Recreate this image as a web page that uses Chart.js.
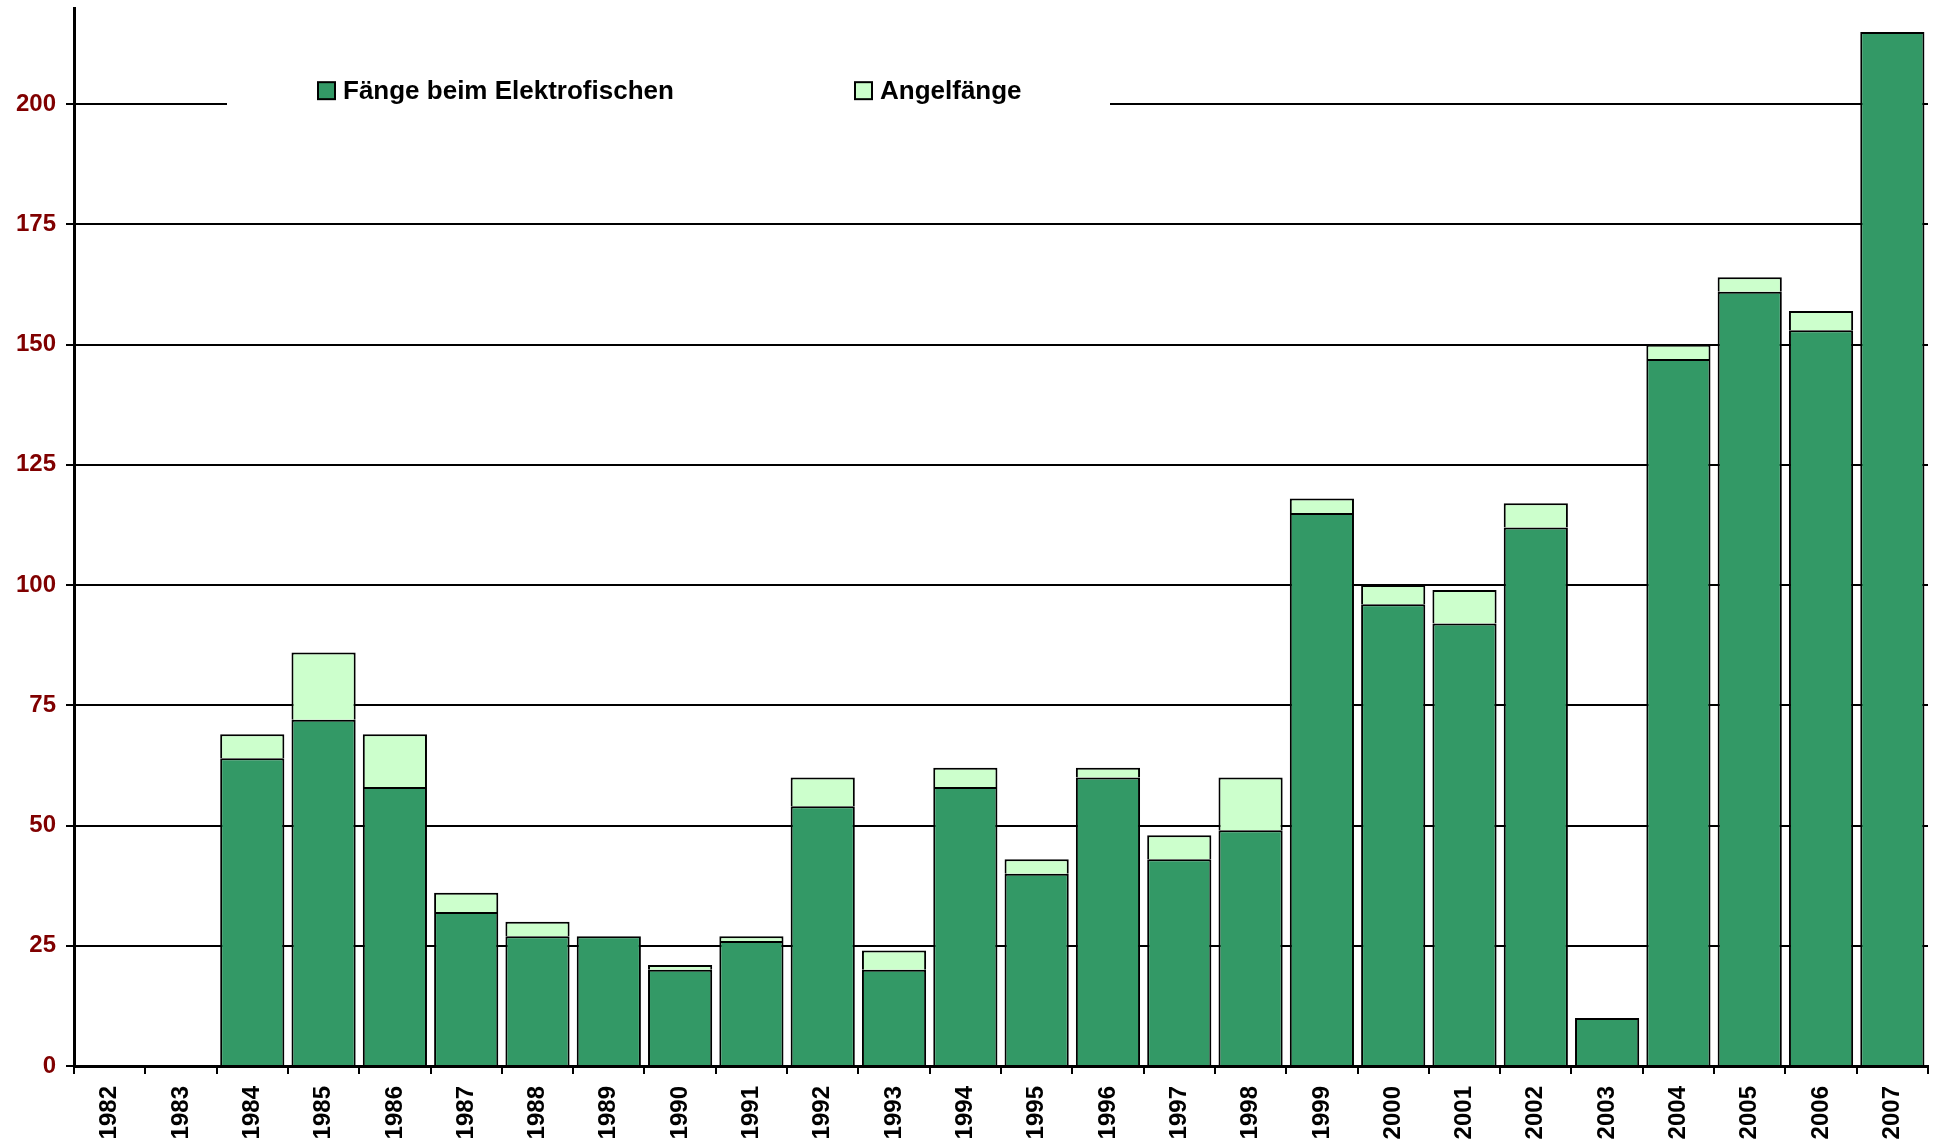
<!DOCTYPE html>
<html>
<head>
<meta charset="utf-8">
<script src="https://cdn.jsdelivr.net/npm/chart.js@4.4.1/dist/chart.umd.min.js"></script>
<style>
  html, body { margin: 0; padding: 0; background: #fff; }
  #wrap { width: 1941px; height: 1139px; }
</style>
</head>
<body>
<div id="wrap"><canvas id="fangChart"></canvas></div>
<script>
// Jahre
var years = ['1982', '1983', '1984', '1985', '1986', '1987', '1988', '1989', '1990', '1991',
             '1992', '1993', '1994', '1995', '1996', '1997', '1998', '1999', '2000', '2001',
             '2002', '2003', '2004', '2005', '2006', '2007'];
// Fänge beim Elektrofischen
var elektro = [0, 0, 64, 72, 58, 32, 27, 27, 20, 26,
               54, 20, 58, 40, 60, 43, 49, 115, 96, 92,
               112, 10, 147, 161, 153, 215];
// Angelfänge (oben drauf gestapelt)
var angel = [0, 0, 5, 14, 11, 4, 3, 0, 1, 1,
             6, 4, 4, 3, 2, 5, 11, 3, 4, 7,
             5, 0, 3, 3, 4, 0];
var seriesNames = ['Fänge beim Elektrofischen', 'Angelfänge'];
var yTicks = [0, 25, 50, 75, 100, 125, 150, 175, 200];

var dark = '#339966';
var light = '#ccffcc';
var fontFam = '"Liberation Sans", Arial, sans-serif';

// eigene Legende im Diagramm, mit weissem Hintergrund ueber der 200er Linie
var legendPlugin = {
  id: 'innerLegend',
  beforeDatasetsDraw: function(chart) {
    var c = chart.ctx;
    var area = chart.chartArea;
    var y200 = chart.scales.y.getPixelForValue(200);
    c.save();
    c.fillStyle = '#fff';
    c.fillRect(area.left + 153, y200 - 20, 883, 40);
    var items = [
      { x: area.left + 244, color: dark, text: seriesNames[0] },
      { x: area.left + 781, color: light, text: seriesNames[1] }
    ];
    c.font = 'bold 26px ' + fontFam;
    c.textBaseline = 'middle';
    items.forEach(function(it) {
      c.fillStyle = it.color;
      c.fillRect(it.x, y200 - 22, 17, 17);
      c.lineWidth = 2;
      c.strokeStyle = '#000';
      c.strokeRect(it.x, y200 - 22, 17, 17);
      c.fillStyle = '#000';
      c.fillText(it.text, it.x + 25, y200 - 12);
    });
    c.restore();
  }
};

var ctx = document.getElementById('fangChart').getContext('2d');
var fangChart = new Chart(ctx, {
  type: 'bar',
  data: {
    labels: years,
    datasets: [{
      label: seriesNames[0],
      data: elektro,
      backgroundColor: dark,
      borderColor: '#000',
      borderWidth: 2
    }, {
      label: seriesNames[1],
      data: angel,
      backgroundColor: light,
      borderColor: '#000',
      borderWidth: 2
    }]
  },
  options: {
    responsive: true,
    maintainAspectRatio: false,
    animation: false,
    barPercentage: 0.9,
    categoryPercentage: 1.0,
    layout: { padding: { top: 8, right: 13, left: 0, bottom: 0 } },
    plugins: {
      legend: { display: false },
      tooltip: { enabled: false }
    },
    scales: {
      x: {
        stacked: true,
        grid: {
          offset: true,
          drawOnChartArea: false,
          drawTicks: true,
          tickLength: 8,
          color: '#000',
          lineWidth: 2
        },
        border: { display: true, color: '#000', width: 3 },
        ticks: {
          color: '#000',
          font: { family: fontFam, size: 24, weight: 'bold' },
          minRotation: 90,
          maxRotation: 90,
          autoSkip: false,
          padding: 12
        },
        afterFit: function(scale) {
          scale.height = 73;
          scale.paddingLeft = 0;
          scale.paddingRight = 0;
        }
      },
      y: {
        stacked: true,
        min: 0,
        max: 220,
        grid: {
          color: '#000',
          lineWidth: 2,
          tickLength: 8
        },
        border: { display: true, color: '#000', width: 3 },
        ticks: {
          stepSize: 25,
          color: '#800000',
          font: { family: fontFam, size: 24, weight: 'bold' },
          padding: 10
        },
        afterBuildTicks: function(scale) {
          scale.ticks = yTicks.map(function(v) { return { value: v }; });
        },
        afterFit: function(scale) {
          scale.width = 74;
          scale.paddingTop = 0;
          scale.paddingBottom = 0;
        }
      }
    }
  },
  plugins: [legendPlugin]
});
</script>
</body>
</html>
